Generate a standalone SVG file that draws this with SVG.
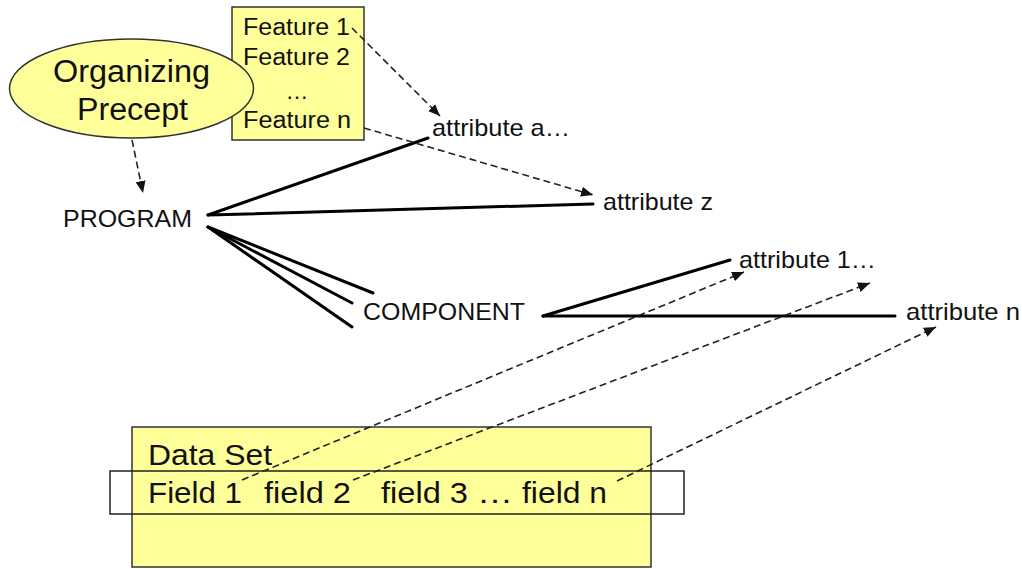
<svg xmlns="http://www.w3.org/2000/svg" width="1022" height="569" viewBox="0 0 1022 569">
  <style>
    .box { fill: #FFFF99; stroke: #333333; stroke-width: 1.5; }
    .band { fill: none; stroke: #222222; stroke-width: 1.5; }
    .txt { font-family: "Liberation Sans", Arial, sans-serif; fill: #111111; }
    .big { font-size: 31px; }
    .mid { font-size: 24px; }
    .feat { font-size: 23px; }
    .ds { font-size: 30px; }
    .solid { stroke: #000000; stroke-width: 3; fill: none; stroke-linecap: round; }
    .dash { stroke: #222222; stroke-width: 1.6; fill: none; stroke-dasharray: 7 4; marker-end: url(#arrow); }
  </style>
  <defs>
    <marker id="arrow" markerUnits="userSpaceOnUse" markerWidth="13" markerHeight="11" refX="12" refY="5" orient="auto">
      <path d="M0,0 L12,5 L0,10 z" fill="#111111"/>
    </marker>
  </defs>
  <rect width="1022" height="569" fill="#ffffff"/>

  <!-- feature list -->
  <g id="features">
    <rect class="box" x="232" y="7" width="132" height="133"/>
    <text class="txt feat" x="243" y="35" textLength="107" lengthAdjust="spacingAndGlyphs">Feature 1</text>
    <text class="txt feat" x="243" y="65" textLength="107" lengthAdjust="spacingAndGlyphs">Feature 2</text>
    <text class="txt feat" x="297" y="99" text-anchor="middle">…</text>
    <text class="txt feat" x="243" y="128" textLength="108" lengthAdjust="spacingAndGlyphs">Feature n</text>
  </g>

  <!-- organizing precept -->
  <g id="precept">
    <ellipse class="box" cx="131.5" cy="88.5" rx="122" ry="49.5"/>
    <text class="txt big" x="53" y="82" textLength="157" lengthAdjust="spacingAndGlyphs">Organizing</text>
    <text class="txt big" x="77" y="120" textLength="111" lengthAdjust="spacingAndGlyphs">Precept</text>
  </g>

  <g id="program">
    <text class="txt mid" x="63" y="227" textLength="129" lengthAdjust="spacingAndGlyphs">PROGRAM</text>
  </g>
  <g id="component">
    <text class="txt mid" x="363" y="320" textLength="162" lengthAdjust="spacingAndGlyphs">COMPONENT</text>
  </g>
  <g id="attr-a">
    <text class="txt mid" x="432" y="136" textLength="138" lengthAdjust="spacingAndGlyphs">attribute a…</text>
  </g>
  <g id="attr-z">
    <text class="txt mid" x="603" y="210" textLength="110" lengthAdjust="spacingAndGlyphs">attribute z</text>
  </g>
  <g id="attr-1">
    <text class="txt mid" x="739" y="268" textLength="137" lengthAdjust="spacingAndGlyphs">attribute 1…</text>
  </g>
  <g id="attr-n">
    <text class="txt mid" x="906" y="320" textLength="114" lengthAdjust="spacingAndGlyphs">attribute n</text>
  </g>

  <!-- data set with highlighted field row -->
  <g id="dataset">
    <rect class="box" x="132" y="427" width="519" height="140"/>
    <rect class="band" x="110" y="471" width="574" height="43"/>
    <text class="txt ds" x="148" y="465" textLength="124" lengthAdjust="spacingAndGlyphs">Data Set</text>
    <text class="txt ds" x="148" y="503" textLength="94" lengthAdjust="spacingAndGlyphs">Field 1</text>
    <text class="txt ds" x="264" y="503" textLength="87" lengthAdjust="spacingAndGlyphs">field 2</text>
    <text class="txt ds" x="381" y="503" textLength="87" lengthAdjust="spacingAndGlyphs">field 3</text>
    <text class="txt ds" x="477" y="503" textLength="36" lengthAdjust="spacingAndGlyphs">…</text>
    <text class="txt ds" x="522" y="503" textLength="85" lengthAdjust="spacingAndGlyphs">field n</text>
  </g>

  <g id="connectors">
    <!-- hierarchy -->
    <line class="solid" x1="208" y1="215" x2="428" y2="138"/>
    <line class="solid" x1="208" y1="215" x2="593" y2="204"/>
    <line class="solid" x1="208" y1="227" x2="373" y2="293"/>
    <line class="solid" x1="208" y1="227" x2="352" y2="303"/>
    <line class="solid" x1="208" y1="227" x2="352" y2="327"/>
    <line class="solid" x1="543" y1="316" x2="730" y2="260"/>
    <line class="solid" x1="543" y1="316" x2="895" y2="316"/>
    <!-- mappings -->
    <line class="dash" x1="132" y1="140" x2="143" y2="193"/>
    <line class="dash" x1="352" y1="28" x2="440" y2="116"/>
    <line class="dash" x1="364" y1="128" x2="593" y2="195"/>
    <line class="dash" x1="242" y1="480" x2="744" y2="272"/>
    <line class="dash" x1="353" y1="480" x2="870" y2="283"/>
    <line class="dash" x1="617" y1="481" x2="936" y2="327"/>
  </g>
</svg>
